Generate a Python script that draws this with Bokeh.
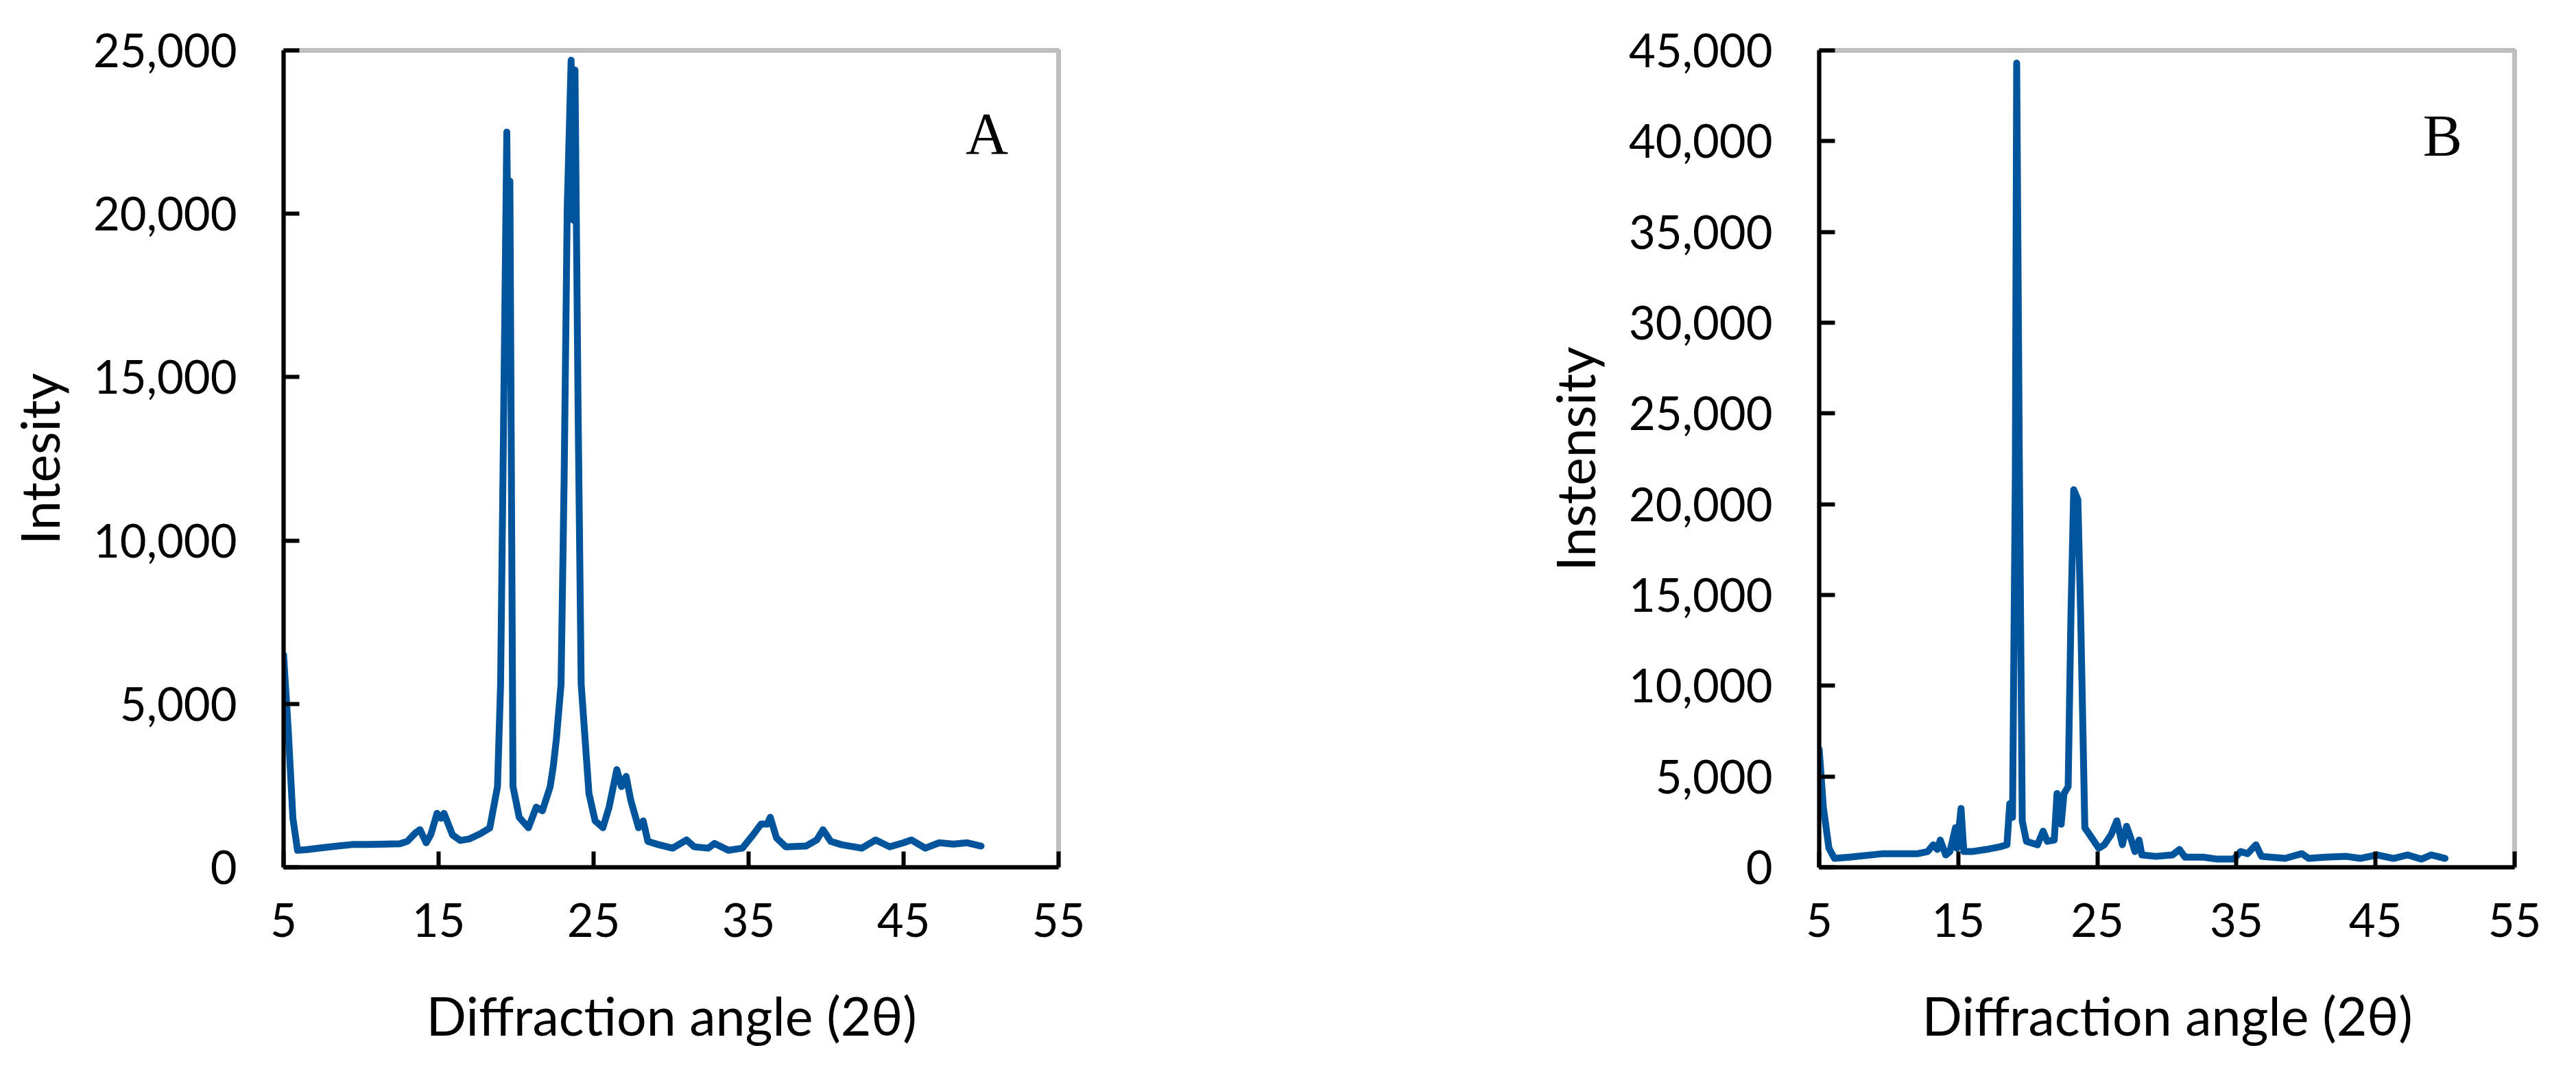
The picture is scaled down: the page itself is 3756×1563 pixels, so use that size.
from bokeh.plotting import figure
from bokeh.layouts import row
from bokeh.models import NumeralTickFormatter, FixedTicker, Range1d, Label
from bokeh.embed import file_html
from bokeh.resources import INLINE

# Panel A data
angle_a = [5.0, 5.3, 5.6, 5.9, 6.5, 7.5, 8.5, 9.5, 10.5, 11.5, 12.5, 13.0, 13.5, 13.8, 14.2, 14.5,
           14.9, 15.15, 15.35, 15.9, 16.4, 17.0, 17.7, 18.3, 18.8, 19.0, 19.25, 19.4, 19.5, 19.6,
           19.8, 20.2, 20.8, 21.3, 21.7, 22.2, 22.4, 22.6, 22.9, 23.1, 23.3, 23.55, 23.7, 23.8,
           24.0, 24.2, 24.7, 25.1, 25.6, 26.0, 26.5, 26.8, 27.1, 27.4, 27.9, 28.2, 28.5, 29.2,
           30.1, 31.0, 31.5, 32.4, 32.8, 33.7, 34.6, 35.3, 35.8, 36.2, 36.4, 36.8, 37.4, 38.7,
           39.4, 39.8, 40.3, 41.0, 42.3, 43.2, 44.1, 45.0, 45.5, 46.4, 47.3, 48.2, 49.1, 50.0]
intensity_a = [6500, 4200, 1500, 520, 540, 600, 650, 700, 700, 710, 720, 800, 1050, 1150, 750, 1000,
               1650, 1500, 1650, 990, 820, 870, 1030, 1200, 2470, 5600, 16000, 22500, 18100, 21000,
               2470, 1530, 1210, 1840, 1730, 2470, 3090, 3930, 5600, 11900, 20200, 24700, 19800, 24400,
               14000, 5600, 2260, 1420, 1210, 1840, 2990, 2470, 2780, 2050, 1210, 1420, 794, 690,
               585, 836, 627, 585, 730, 520, 585, 1000, 1320, 1320, 1530, 900, 627, 650,
               836, 1150, 794, 690, 585, 836, 627, 750, 836, 585, 750, 710, 750, 650]

# Panel B data
angle_b = [5.0, 5.3, 5.7, 6.1, 7.2, 9.6, 12.1, 12.8, 13.2, 13.5, 13.7, 14.1, 14.4, 14.8, 14.9, 15.2,
           15.4, 16.0, 17.0, 18.0, 18.5, 18.7, 18.9, 19.1, 19.2, 19.4, 19.6, 19.9, 20.7, 21.1,
           21.4, 21.9, 22.1, 22.4, 22.6, 22.9, 23.1, 23.3, 23.6, 23.8, 24.1, 24.6, 25.1, 25.5,
           26.0, 26.4, 26.8, 27.1, 27.4, 27.7, 28.0, 28.2, 29.2, 30.4, 30.9, 31.3, 32.6, 33.6,
           34.8, 35.3, 35.8, 36.4, 36.8, 38.5, 39.7, 40.2, 41.4, 42.9, 43.9, 45.1, 46.3, 47.3,
           48.3, 49.0, 50.0]
intensity_b = [6510, 3310, 1050, 490, 560, 750, 750, 865, 1240, 980, 1500, 680, 865, 2180, 1050, 3240,
               865, 865, 980, 1130, 1240, 3500, 2750, 21400, 44300, 21400, 2560, 1430, 1240, 1990,
               1430, 1500, 4060, 2370, 4060, 4440, 13850, 20800, 20250, 13850, 2180, 1620, 1050, 1240,
               1810, 2560, 1240, 2260, 1620, 865, 1500, 680, 600, 680, 980, 560, 560, 450,
               450, 865, 750, 1240, 600, 490, 750, 490, 560, 600, 490, 680, 490, 680,
               450, 680, 490]

x_ticks = [5, 15, 25, 35, 45, 55]
y_ticks_a = [0, 5000, 10000, 15000, 20000, 25000]
y_ticks_b = [0, 5000, 10000, 15000, 20000, 25000, 30000, 35000, 40000, 45000]

LINE_COLOR = "#00549C"
FONT = "Lato"


def make_panel(xs, ys, yticks, ymax, ylabel, letter, letter_x, letter_y,
               width, border_left, border_right):
    p = figure(width=width, height=1545, output_backend="svg", toolbar_location=None,
               x_range=Range1d(5, 55), y_range=Range1d(0, ymax),
               min_border_left=border_left, min_border_right=border_right,
               min_border_top=73, min_border_bottom=281)
    p.line(xs, ys, line_color=LINE_COLOR, line_width=10, line_join="round", line_cap="round")
    p.grid.visible = False
    p.background_fill_color = "white"
    p.border_fill_color = "white"
    p.outline_line_color = "#BFBFBF"
    p.outline_line_width = 7

    p.xaxis.ticker = FixedTicker(ticks=x_ticks)
    p.yaxis.ticker = FixedTicker(ticks=yticks)
    p.yaxis.formatter = NumeralTickFormatter(format="0,0")
    for ax in (p.xaxis, p.yaxis):
        ax.axis_line_color = "black"
        ax.axis_line_width = 6
        ax.major_tick_line_color = "black"
        ax.major_tick_line_width = 6
        ax.major_tick_out = 0
        ax.major_tick_in = 23
        ax.minor_tick_line_color = None
        ax.major_label_text_font = FONT
        ax.major_label_text_font_size = "67px"
        ax.major_label_text_color = "black"
        ax.axis_label_text_font = FONT
        ax.axis_label_text_font_size = "77px"
        ax.axis_label_text_font_style = "normal"
        ax.axis_label_text_color = "black"
    p.xaxis.major_label_standoff = 52
    p.yaxis.major_label_standoff = 68
    p.xaxis.axis_label = "Diffraction angle (2θ)"
    p.xaxis.axis_label_standoff = 65
    p.yaxis.axis_label = ylabel
    p.yaxis.axis_label_standoff = 30

    p.add_layout(Label(x=letter_x, y=letter_y, text=letter, text_font="Liberation Serif",
                       text_font_size="86px", text_color="black", text_align="left",
                       text_baseline="alphabetic"))
    return p


pa = make_panel(angle_a, intensity_a, y_ticks_a, 25000, "Intesity", "A", 49.0, 22450,
                2192, 413, 649)
pb = make_panel(angle_b, intensity_b, y_ticks_b, 45000, "Instensity", "B", 48.4, 40300,
                1530, 460, 56)

layout = row(pa, pb)
open("out.html", "w").write(file_html(layout, INLINE))
